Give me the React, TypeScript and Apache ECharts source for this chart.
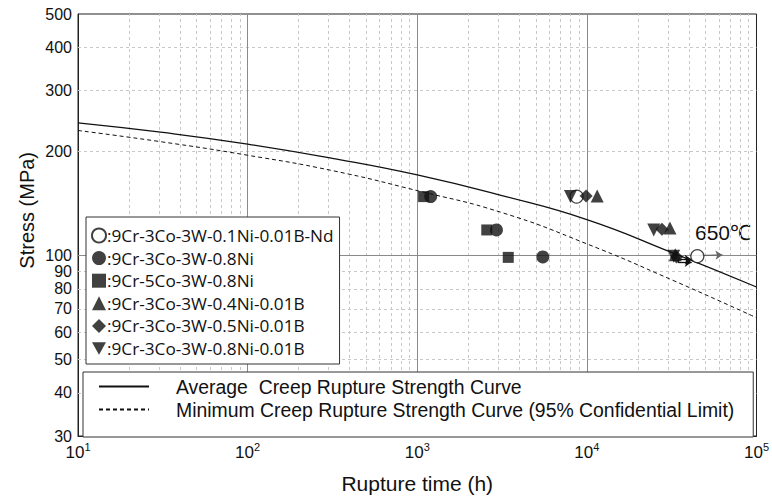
import React, { useEffect, useRef } from "react";
import * as echarts from "echarts";

// ---------- data ----------
const xTickExponents = [1, 2, 3, 4, 5];
const yTickLabels = [30, 40, 50, 60, 70, 80, 90, 100, 200, 300, 400, 500];
const xMajorGrid = [100, 1000, 10000];
const xMinorGrid = [
  20, 30, 40, 50, 60, 70, 80, 90,
  200, 300, 400, 500, 600, 700, 800, 900,
  2000, 3000, 4000, 5000, 6000, 7000, 8000, 9000,
  20000, 30000, 40000, 50000, 60000, 70000, 80000, 90000,
];
const yMajorGrid = [100];
const yMinorGrid = [40, 50, 60, 70, 80, 90, 200, 300, 400];

const avgCurve = [
  [10, 242], [31.6, 227], [100, 210], [316, 191], [1000, 171],
  [3162, 149], [10000, 127], [31623, 102], [100000, 81],
];
const minCurve = [
  [10, 230], [31.6, 213], [100, 195], [316, 176], [1000, 154],
  [3162, 133], [10000, 108], [31623, 85], [100000, 66],
];

const seriesNames = [
  ":9Cr-3Co-3W-0.1Ni-0.01B-Nd",
  ":9Cr-3Co-3W-0.8Ni",
  ":9Cr-5Co-3W-0.8Ni",
  ":9Cr-3Co-3W-0.4Ni-0.01B",
  ":9Cr-3Co-3W-0.5Ni-0.01B",
  ":9Cr-3Co-3W-0.8Ni-0.01B",
];
const ndOpen = [[8700, 148], [44800, 99.5]];
const ni08 = [[1200, 148], [2930, 118.5], [5500, 99]];
const co5 = [[1090, 148], [2570, 118.5], [3440, 98.7]];
const ni04B = [[11500, 148.5], [30900, 120], [33200, 100.5]];
const ni05B = [[9900, 148.5], [27700, 119], [33800, 99]];
const ni08B = [[8000, 148], [24800, 118.5], [32500, 99.5]];

const runoutOpen = [[[46500, 99.8], [63000, 100.3]]];
const runoutCluster = [
  [[34500, 97], [34500, 95.5]],
  [[34500, 95.5], [41500, 95.5]],
  [[35500, 97.3], [41500, 97.3]],
];

const curveNames = [
  "Average  Creep Rupture Strength Curve",
  "Minimum Creep Rupture Strength Curve (95% Confidential Limit)",
];

const downTri = "path://M0,0L10,0L5,9Z";
const FONT = "Arial, Liberation Sans, sans-serif";

function markerSeries(name: string, data: number[][], symbol: string, size: number, open = false) {
  return {
    name,
    type: "scatter",
    data,
    symbol,
    symbolSize: size,
    z: 5,
    itemStyle: open
      ? { color: "#fff", borderColor: "#111", borderWidth: 1.3 }
      : { color: "#111" },
  };
}

export default function App() {
  const ref = useRef<HTMLDivElement>(null);
  useEffect(() => {
    document.body.style.margin = "0";
    const chart = echarts.init(ref.current!, null, { renderer: "svg" });
    const gridLines = [
      ...xMinorGrid.map((v) => ({ xAxis: v, lineStyle: { color: "#c8c8c8", type: [3, 3], width: 1 } })),
      ...yMinorGrid.map((v) => ({ yAxis: v, lineStyle: { color: "#c8c8c8", type: [3, 3], width: 1 } })),
      ...xMajorGrid.map((v) => ({ xAxis: v, lineStyle: { color: "#8a8a8a", type: "solid", width: 1 } })),
      ...yMajorGrid.map((v) => ({ yAxis: v, lineStyle: { color: "#8a8a8a", type: "solid", width: 1 } })),
    ];
    const option: any = {
      animation: false,
      backgroundColor: "#fff",
      grid: { left: 78, right: 13, top: 14, bottom: 56, show: true, borderColor: "#222", borderWidth: 1 },
      xAxis: {
        type: "log",
        logBase: 10,
        min: 10,
        max: 100000,
        name: "Rupture time (h)",
        nameLocation: "middle",
        nameGap: 37,
        nameTextStyle: { fontFamily: FONT, fontSize: 21, color: "#111" },
        axisLine: { show: true, lineStyle: { color: "#222" } },
        axisTick: { show: true, inside: true, length: 4, customValues: [...xMinorGrid, ...xMajorGrid], lineStyle: { color: "#444" } },
        splitLine: { show: false },
        axisLabel: {
          margin: 5,
          customValues: xTickExponents.map((e) => Math.pow(10, e)),
          formatter: (v: number) => `{b|10}{s|${Math.round(Math.log10(v))}}`,
          rich: {
            b: { fontFamily: FONT, fontSize: 17, color: "#111", lineHeight: 20, verticalAlign: "bottom" },
            s: { fontFamily: FONT, fontSize: 11, color: "#111", lineHeight: 12, verticalAlign: "top" },
          },
        },
      },
      yAxis: {
        type: "log",
        logBase: 10,
        min: 30,
        max: 500,
        axisLine: { show: true, lineStyle: { color: "#222" } },
        axisTick: { show: false },
        splitLine: { show: false },
        axisLabel: {
          customValues: yTickLabels,
          margin: 6,
          fontFamily: FONT,
          fontSize: 16,
          lineHeight: 14,
          color: "#111",
          formatter: (v: number) => String(Math.round(v)),
        },
      },
      legend: [
        {
          orient: "vertical",
          left: 86,
          top: 217,
          data: [
            { name: seriesNames[0], icon: "circle" },
            { name: seriesNames[1], icon: "circle" },
            { name: seriesNames[2], icon: "rect" },
            { name: seriesNames[3], icon: "triangle" },
            { name: seriesNames[4], icon: "diamond" },
            { name: seriesNames[5], icon: downTri },
          ],
          itemWidth: 14,
          itemHeight: 14,
          itemGap: 5.6,
          padding: [10, 6, 7, 5],
          borderColor: "#333",
          borderWidth: 1,
          backgroundColor: "#fff",
          selectedMode: false,
          textStyle: { fontFamily: "Open Sans, sans-serif", fontSize: 17.2, color: "#111", padding: [0, 0, 0, -4] },
        },
        {
          orient: "vertical",
          left: 83,
          top: 372,
          data: curveNames,
          itemWidth: 50,
          itemHeight: 14,
          itemGap: 4,
          padding: [5, 19, 18, 15],
          borderColor: "#333",
          borderWidth: 1,
          backgroundColor: "#fff",
          selectedMode: false,
          itemStyle: { color: "transparent", borderColor: "transparent", borderWidth: 0, opacity: 0 },
          textStyle: { fontFamily: FONT, fontSize: 19.4, color: "#111", padding: [0, 0, 0, 22] },
        },
      ],
      graphic: [
        {
          type: "text",
          left: 17,
          top: 152,
          rotation: Math.PI / 2,
          style: { text: "Stress (MPa)", fontFamily: FONT, fontSize: 20, fill: "#111" },
        },
        {
          type: "text",
          left: 695,
          top: 222,
          style: { text: "650℃", fontFamily: FONT, fontSize: 21, fill: "#111" },
        },
      ],
      series: [
        {
          name: "grid",
          type: "scatter",
          data: [],
          z: 1,
          silent: true,
          markLine: { silent: true, symbol: "none", label: { show: false }, z: 1, data: gridLines },
        },
        {
          name: curveNames[0],
          type: "line",
          data: avgCurve,
          smooth: true,
          symbol: "none",
          z: 3,
          lineStyle: { color: "#111", width: 1.3 },
          itemStyle: { color: "#111" },
        },
        {
          name: curveNames[1],
          type: "line",
          data: minCurve,
          smooth: true,
          symbol: "none",
          z: 3,
          lineStyle: { color: "#111", width: 1, type: [4, 3] },
          itemStyle: { color: "#111" },
        },
        {
          ...markerSeries(seriesNames[0], ndOpen, "circle", 13, true),
          markLine: {
            silent: true,
            symbol: ["none", "arrow"],
            symbolSize: 7,
            label: { show: false },
            lineStyle: { color: "#666", type: "solid", width: 1.3 },
            data: runoutOpen.map((seg) => [{ coord: seg[0] }, { coord: seg[1] }]),
          },
        },
        markerSeries(seriesNames[1], ni08, "circle", 13),
        markerSeries(seriesNames[2], co5, "rect", 11),
        markerSeries(seriesNames[3], ni04B, "triangle", 13),
        markerSeries(seriesNames[4], ni05B, "diamond", 13),
        {
          ...markerSeries(seriesNames[5], ni08B, downTri, 13),
          markLine: {
            silent: true,
            symbol: ["none", "none"],
            label: { show: false },
            lineStyle: { color: "#111", type: "solid", width: 1.3 },
            data: runoutCluster.map((seg, i) => [
              { coord: seg[0] },
              { coord: seg[1], symbol: i === 0 ? "none" : "arrow", symbolSize: 7 },
            ]),
          },
        },
      ],
    };
    chart.setOption(option);
    return () => chart.dispose();
  }, []);
  return <div ref={ref} style={{ width: 772, height: 499 }} />;
}
